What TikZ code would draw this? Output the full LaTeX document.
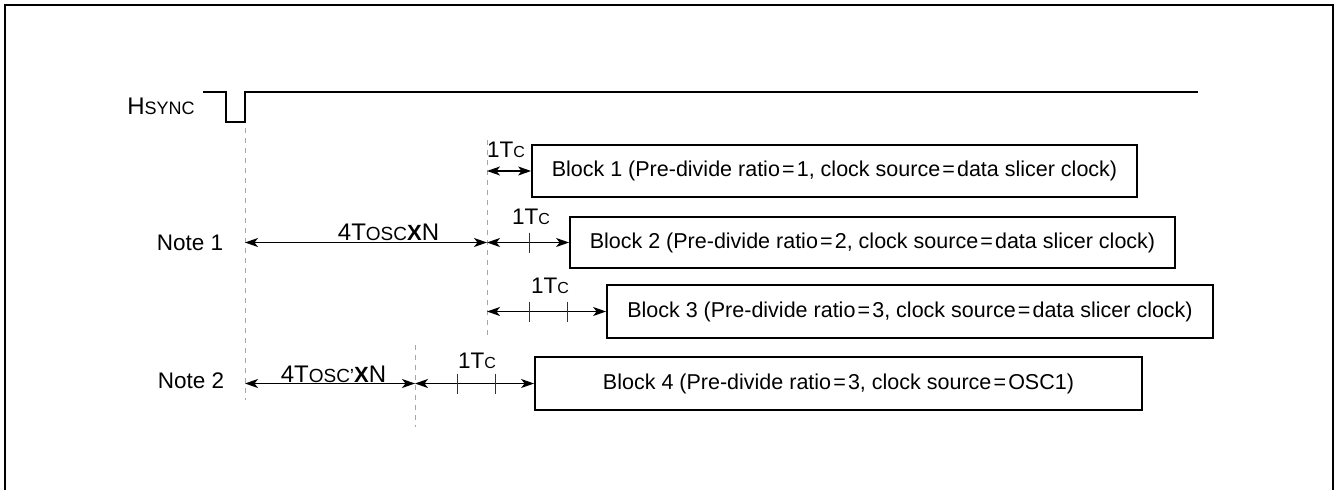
\documentclass[tikz,border=0pt]{standalone}
\usepackage{fontspec}
\setmainfont{Liberation Sans}
\usetikzlibrary{arrows.meta}
\newcommand{\sm}[1]{{\fontsize{16}{16}\selectfont #1}}
\newcommand{\smo}[1]{{\fontsize{19}{19}\selectfont #1}}
\newcommand{\bx}{{\fontsize{22}{22}\selectfont\bfseries X}}
\newcommand{\eqs}{\hspace{0.1em}={}\hspace{0.1em}}
\newcommand{\blkfont}{\fontsize{21.5}{25}\selectfont}
\begin{document}
\begin{tikzpicture}[x=1pt,y=-1pt,
  lbl/.style={inner sep=0pt, font=\fontsize{22.5}{26}\selectfont},
  blk/.style={draw, line width=1.8pt, minimum width=605pt, minimum height=52pt, inner sep=0pt, font=\blkfont},
  dim/.style={line width=1.3pt, {Stealth[length=13pt,width=9pt,inset=3.5pt]}-{Stealth[length=13pt,width=9pt,inset=3.5pt]}},
  guide/.style={gray!70, line width=1pt, dash pattern=on 5pt off 5pt},
  tickm/.style={line width=0.8pt, black!80},
  sig/.style={line width=1.8pt}]
\useasboundingbox (0,0) rectangle (1337,490);
% frame
\draw[line width=2pt] (5,490) -- (5,5) -- (1333,5) -- (1333,490);
% HSYNC
\node[lbl, font=\fontsize{24}{26}\selectfont] (hs) at (161,106) {H{\fontsize{18}{18}\selectfont SYNC}};
\draw[sig] (203,92) -- (226,92) -- (226,122) -- (245,122) -- (245,92) -- (1198,92);
% guides
\coordinate (g1t) at (245,128); \coordinate (g1b) at (245,400);
\coordinate (g2t) at (487,140); \coordinate (g2b) at (487,337);
\coordinate (g3t) at (415,345); \coordinate (g3b) at (415,427);
\draw[guide] (g1t) -- (g1b);
\draw[guide] (g2t) -- (g2b);
\draw[guide] (g3t) -- (g3b);
% blocks
\node[blk] (b1) at (834.5,171) {Block 1 (Pre-divide ratio\eqs1, clock source\eqs data slicer clock)};
\node[blk, minimum height=51pt] (b2) at (872.5,242.5) {Block 2 (Pre-divide ratio\eqs2, clock source\eqs data slicer clock)};
\node[blk, minimum width=606pt, minimum height=53pt] (b3) at (910,311.5) {Block 3 (Pre-divide ratio\eqs3, clock source\eqs data slicer clock)};
\node[blk, minimum width=607pt, minimum height=53pt] (b4) at (838.5,383.5) {Block 4 (Pre-divide ratio\eqs3, clock source\eqs OSC1)};
% row coordinates
\coordinate (r1) at (487,171);
\coordinate (n1a) at (245,242.5); \coordinate (n1b) at (487,242.5);
\coordinate (r3) at (487,311.5);
\coordinate (n2a) at (245,383.5); \coordinate (n2b) at (415,383.5);
% arrows
\draw[dim] (r1) -- (r1 -| b1.west);
\draw[dim] (n1a) -- (n1b);
\draw[dim] (n1b) -- (n1b -| b2.west);
\draw[dim] (r3) -- (r3 -| b3.west);
\draw[dim] (n2a) -- (n2b);
\draw[dim] (n2b) -- (n2b -| b4.west);
% ticks
\draw[tickm] (529,232.5) -- (529,252.5);
\draw[tickm] (529,301.5) -- (529,321.5);
\draw[tickm] (567,301.5) -- (567,321.5);
\draw[tickm] (457,373.5) -- (457,393.5);
\draw[tickm] (495,373.5) -- (495,393.5);
% labels
\node[lbl] (t1) at (506,150) {1T\sm{C}};
\node[lbl] (t2) at (531,217) {1T\sm{C}};
\node[lbl] (t3) at (550,286) {1T\sm{C}};
\node[lbl] (t4) at (477,361) {1T\sm{C}};
\node[lbl, font=\fontsize{24}{26}\selectfont] (o1) at (388.5,232) {4T\smo{OSC}\bx N};
\node[lbl, font=\fontsize{24}{26}\selectfont] (o2) at (333.5,374) {4T\smo{OSC'}\bx N};
\node[lbl] (nt1) at (190,243) {Note 1};
\node[lbl] (nt2) at (191,381) {Note 2};
\end{tikzpicture}
\end{document}
